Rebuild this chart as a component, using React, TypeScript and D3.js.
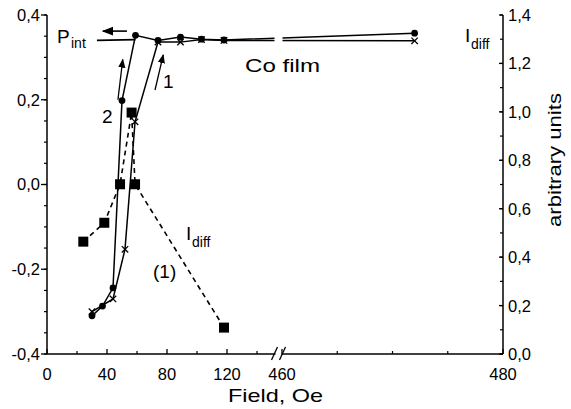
import React from "react";
import * as d3 from "d3";

// ---- data ----
const fieldCurve1 = [30, 44, 52, 58.7, 74, 89, 103, 118, 472];
const pintCurve1 = [-0.3, -0.27, -0.153, 0.148, 0.336, 0.336, 0.342, 0.34, 0.339];
const fieldCurve2 = [30, 37, 44, 50, 59, 74, 89, 103, 118, 472];
const pintCurve2 = [-0.31, -0.287, -0.244, 0.198, 0.352, 0.34, 0.348, 0.343, 0.341, 0.357];
const fieldIdiff = [24.2, 38.2, 48.7, 56.4, 58.7, 118];
const idiffValues = [0.464, 0.542, 0.701, 0.997, 0.701, 0.109];

const xTickValues = [0, 40, 80, 120, 460, 480];
const xTickLabels = ["0", "40", "80", "120", "460", "480"];
const xMinorTicks = [20, 60, 100, 140, 465, 470, 475];
const leftTickValues = [-0.4, -0.2, 0, 0.2, 0.4];
const leftTickLabels = ["-0,4", "-0,2", "0,0", "0,2", "0,4"];
const rightTickValues = [0, 0.2, 0.4, 0.6, 0.8, 1.0, 1.2, 1.4];
const rightTickLabels = ["0,0", "0,2", "0,4", "0,6", "0,8", "1,0", "1,2", "1,4"];

const W = 571;
const H = 409;
const FONT = "'Liberation Sans', Arial, Helvetica, sans-serif";

export default function App() {
  const x = d3.scaleLinear().domain([0, 152, 460, 480]).range([47, 275, 282, 503]);
  const yL = d3.scaleLinear().domain([-0.4, 0.4]).range([354, 15]);
  const yR = d3.scaleLinear().domain([0, 1.4]).range([354, 15]);
  const x0 = x(0);
  const x1 = x(480);
  const yb = yL(-0.4);

  const leftMinor = d3.range(-0.4, 0.4001, 0.05).map((v) => +v.toFixed(2));
  const rightMinor = d3.range(0, 1.4001, 0.1).map((v) => +v.toFixed(2));

  const c1 = fieldCurve1.map((f, i) => [f, pintCurve1[i]] as [number, number]);
  const c2 = fieldCurve2.map((f, i) => [f, pintCurve2[i]] as [number, number]);
  const cd = fieldIdiff.map((f, i) => [f, idiffValues[i]] as [number, number]);

  const lineL = d3.line<[number, number]>().x((d) => x(d[0])).y((d) => yL(d[1]));
  const lineR = d3.line<[number, number]>().x((d) => x(d[0])).y((d) => yR(d[1]));

  const crossSize = 3.2;
  const sq = 10;

  const breakX = (x(152) + x(460)) / 2;

  return (
    <svg
      width={W}
      height={H}
      style={{ position: "absolute", left: 0, top: 0, background: "#fff" }}
      fontFamily={FONT}
    >
      <defs>
        <clipPath id="gapclip">
          <rect x={0} y={0} width={breakX - 4} height={H} />
          <rect x={breakX + 4} y={0} width={W} height={H} />
        </clipPath>
        <marker id="arrowhead" viewBox="0 0 10 10" refX="9" refY="5" markerWidth="7" markerHeight="7" orient="auto">
          <path d="M0,1 L10,5 L0,9 z" fill="#000" />
        </marker>
      </defs>
      <rect width={W} height={H} fill="#fff" />

      {/* axes lines */}
      <line x1={x0} x2={x0} y1={yL(0.4)} y2={yb} stroke="#000" strokeWidth={1.5} />
      <line x1={x1} x2={x1} y1={yR(1.4)} y2={yb} stroke="#000" strokeWidth={1.5} />
      <line x1={x0} x2={breakX - 3} y1={yb} y2={yb} stroke="#000" strokeWidth={1.5} />
      <line x1={breakX + 3} x2={x1} y1={yb} y2={yb} stroke="#000" strokeWidth={1.5} />
      {/* break marks */}
      {[-4, 4].map((dx) => (
        <line key={dx} x1={breakX + dx - 3} x2={breakX + dx + 3} y1={yb + 6} y2={yb - 7} stroke="#000" strokeWidth={1.3} />
      ))}

      {/* left ticks */}
      {leftMinor.map((v) => (
        <line key={"lm" + v} x1={x0 - 3} x2={x0} y1={yL(v)} y2={yL(v)} stroke="#000" strokeWidth={1.2} />
      ))}
      {leftTickValues.map((v, i) => (
        <g key={"l" + v}>
          <line x1={x0 - 6} x2={x0} y1={yL(v)} y2={yL(v)} stroke="#000" strokeWidth={1.3} />
          <text x={x0 - 7} y={yL(v)} dy="0.36em" textAnchor="end" fontSize={16.5}>
            {leftTickLabels[i]}
          </text>
        </g>
      ))}

      {/* right ticks */}
      {rightMinor.map((v) => (
        <line key={"rm" + v} x1={x1 - 3} x2={x1} y1={yR(v)} y2={yR(v)} stroke="#000" strokeWidth={1.2} />
      ))}
      {rightTickValues.map((v, i) => (
        <g key={"r" + v}>
          <line x1={x1 - 4} x2={x1} y1={yR(v)} y2={yR(v)} stroke="#000" strokeWidth={1.3} />
          <text x={x1 + 5} y={yR(v)} dy="0.36em" textAnchor="start" fontSize={16.5}>
            {rightTickLabels[i]}
          </text>
        </g>
      ))}

      {/* bottom ticks */}
      {xMinorTicks.map((v) => (
        <line key={"xm" + v} x1={x(v)} x2={x(v)} y1={yb} y2={yb - 3} stroke="#000" strokeWidth={1.2} />
      ))}
      {xTickValues.map((v, i) => (
        <g key={"x" + v}>
          <line x1={x(v)} x2={x(v)} y1={yb} y2={yb - 5} stroke="#000" strokeWidth={1.3} />
          <text x={x(v)} y={yb + 26} textAnchor="middle" fontSize={16.5}>
            {xTickLabels[i]}
          </text>
        </g>
      ))}

      {/* data */}
      <g clipPath="url(#gapclip)">
        <path d={lineL(c1) || ""} fill="none" stroke="#000" strokeWidth={1.5} />
        <path d={lineL(c2) || ""} fill="none" stroke="#000" strokeWidth={1.5} />
        <path d={lineR(cd) || ""} fill="none" stroke="#000" strokeWidth={1.6} strokeDasharray="5,4" />
        {/* P_int pointer line */}
        <line x1={x(33.3)} x2={x(59)} y1={yL(0.34)} y2={yL(0.342)} stroke="#000" strokeWidth={1.8} />
      </g>
      {c2.map((d, i) => (
        <circle key={"c" + i} cx={x(d[0])} cy={yL(d[1])} r={3.4} fill="#000" />
      ))}
      {c1.map((d, i) => (
        <g key={"x" + i} stroke="#000" strokeWidth={1.3}>
          <line x1={x(d[0]) - crossSize} x2={x(d[0]) + crossSize} y1={yL(d[1]) - crossSize} y2={yL(d[1]) + crossSize} />
          <line x1={x(d[0]) - crossSize} x2={x(d[0]) + crossSize} y1={yL(d[1]) + crossSize} y2={yL(d[1]) - crossSize} />
        </g>
      ))}
      {cd.map((d, i) => (
        <rect key={"s" + i} x={x(d[0]) - sq / 2} y={yR(d[1]) - sq / 2} width={sq} height={sq} fill="#000" />
      ))}

      {/* annotations */}
      <text x={57} y={43} fontSize={19}>P</text>
      <text x={71} y={48} fontSize={14}>int</text>
      <line x1={x(53.3)} x2={x(37.3)} y1={yL(0.362)} y2={yL(0.362)} stroke="#000" strokeWidth={1.6} markerEnd="url(#arrowhead)" />
      <text x={245} y={72} fontSize={19} textLength={75} lengthAdjust="spacingAndGlyphs">Co film</text>
      <text x={163} y={88} fontSize={19}>1</text>
      <line x1={x(72)} x2={x(77.5)} y1={yL(0.223)} y2={yL(0.306)} stroke="#000" strokeWidth={1.3} markerEnd="url(#arrowhead)" />
      <text x={102} y={123} fontSize={19}>2</text>
      <line x1={x(47.3)} x2={x(50.5)} y1={yL(0.2)} y2={yL(0.295)} stroke="#000" strokeWidth={1.3} markerEnd="url(#arrowhead)" />
      <text x={186} y={240} fontSize={19}>I</text>
      <text x={192} y={247} fontSize={14}>diff</text>
      <text x={153} y={278} fontSize={19}>(1)</text>
      <text x={465} y={42} fontSize={19}>I</text>
      <text x={471} y={49} fontSize={14}>diff</text>
      <text
        transform={`translate(561, 160) rotate(-90)`}
        textAnchor="middle"
        fontSize={18}
        textLength={134}
        lengthAdjust="spacingAndGlyphs"
      >
        arbitrary units
      </text>
      <text x={228} y={402} fontSize={19} textLength={95} lengthAdjust="spacingAndGlyphs">Field, Oe</text>
    </svg>
  );
}
